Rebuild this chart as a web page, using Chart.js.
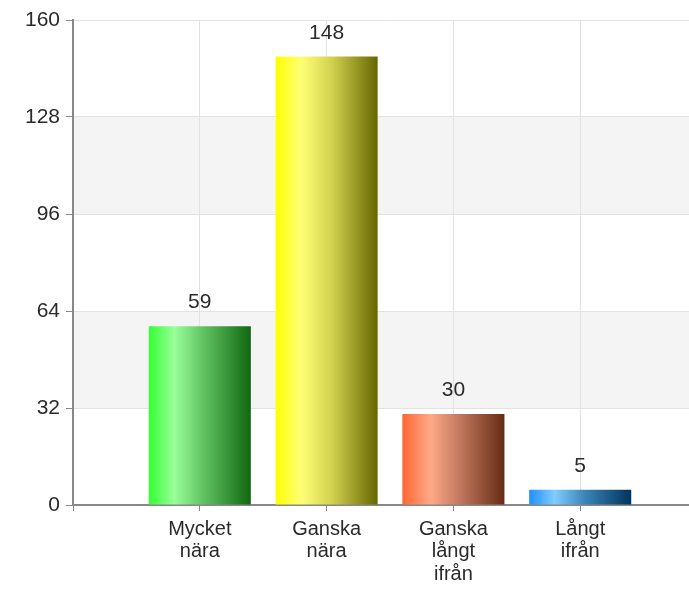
<!DOCTYPE html>
<html>
<head>
<meta charset="utf-8">
<script src="https://cdn.jsdelivr.net/npm/chart.js@4/dist/chart.umd.min.js"></script>
<style>
  html, body { margin: 0; padding: 0; background: #fff; overflow: hidden; }
  #wrap { width: 689px; height: 595px; overflow: hidden; position: relative; }
  #c { position: absolute; left: 0; top: 0; }
</style>
</head>
<body>
<div id="wrap"><canvas id="c" width="720" height="595" style="width:720px;height:595px"></canvas></div>
<script>
// ---- data ----
const categories = [['Mycket', 'nära'], ['Ganska', 'nära'], ['Ganska', 'långt', 'ifrån'], ['Långt', 'ifrån']];
const values = [59, 148, 30, 5];
const yTicks = [0, 32, 64, 96, 128, 160];

// ---- styles ----
const gradientStops = [
  [[0, '#33ff33'], [0.25, '#99ff99'], [0.55, '#5fbf5f'], [1, '#106810']],
  [[0, '#ffff00'], [0.25, '#ffff77'], [0.55, '#d2d250'], [1, '#666600']],
  [[0, '#ff6633'], [0.28, '#ffaa88'], [0.55, '#c47a60'], [1, '#662a14']],
  [[0, '#1e90ff'], [0.25, '#80ccff'], [0.55, '#3a84b6'], [1, '#00345c']]
];
const FONT = '"Liberation Sans", Arial, sans-serif';
const TEXT = '#2a2a2a';
const BAR_PCT = 0.805;

const labels = ['', ...categories, ''];
const data = [null, ...values, null];

function barGradient(ctx) {
  const chart = ctx.chart;
  const i = ctx.dataIndex;
  const stops = gradientStops[i - 1];
  if (!chart.chartArea || !stops) return '#888';
  const xs = chart.scales.x;
  const cx = xs.getPixelForValue(i);
  const slot = xs.getPixelForValue(1) - xs.getPixelForValue(0);
  const w = slot * BAR_PCT;
  const g = chart.ctx.createLinearGradient(cx - w / 2, 0, cx + w / 2, 0);
  stops.forEach(s => g.addColorStop(s[0], s[1]));
  return g;
}

const bandsPlugin = {
  id: 'bands',
  beforeDraw(chart) {
    const { ctx, chartArea: a, scales: { y } } = chart;
    ctx.save();
    ctx.fillStyle = '#f4f4f4';
    for (let k = 1; k < yTicks.length - 1; k += 2) {
      const top = y.getPixelForValue(yTicks[k + 1]);
      const bot = y.getPixelForValue(yTicks[k]);
      ctx.fillRect(a.left, top, a.right - a.left, bot - top);
    }
    ctx.restore();
  }
};

const valueLabels = {
  id: 'valueLabels',
  afterDatasetsDraw(chart) {
    const { ctx } = chart;
    const meta = chart.getDatasetMeta(0);
    ctx.save();
    ctx.fillStyle = TEXT;
    ctx.font = '21px ' + FONT;
    ctx.textAlign = 'center';
    ctx.textBaseline = 'bottom';
    meta.data.forEach((el, i) => {
      const v = chart.data.datasets[0].data[i];
      if (v == null) return;
      ctx.fillText(String(v), el.x, el.y - 13);
    });
    ctx.restore();
  }
};

new Chart(document.getElementById('c'), {
  type: 'bar',
  data: {
    labels: labels,
    datasets: [{
      data: data,
      backgroundColor: barGradient,
      borderWidth: 0,
      categoryPercentage: 1,
      barPercentage: BAR_PCT
    }]
  },
  options: {
    responsive: false,
    animation: false,
    devicePixelRatio: 1,
    layout: { padding: { top: 20, right: 13, left: 0, bottom: 0 } },
    plugins: { legend: { display: false }, tooltip: { enabled: false } },
    scales: {
      x: {
        offset: false,
        grid: { color: '#e2e2e2', tickColor: '#888', tickLength: 6, lineWidth: 1, offset: false },
        border: { color: '#888', width: 2 },
        ticks: {
          autoSkip: false, maxRotation: 0, minRotation: 0, padding: 7,
          color: TEXT, font: { family: FONT, size: 20, lineHeight: 1.12 }
        },
        afterFit(s) { s.height = 90; }
      },
      y: {
        min: 0, max: 160,
        grid: { color: '#e2e2e2', tickColor: '#888', tickLength: 7, lineWidth: 1 },
        border: { color: '#888', width: 2 },
        afterBuildTicks(s) { s.ticks = yTicks.map(v => ({ value: v })); },
        ticks: {
          padding: 6, color: TEXT, font: { family: FONT, size: 21 }
        },
        afterFit(s) { s.width = 73; }
      }
    }
  },
  plugins: [bandsPlugin, valueLabels]
});
</script>
</body>
</html>
